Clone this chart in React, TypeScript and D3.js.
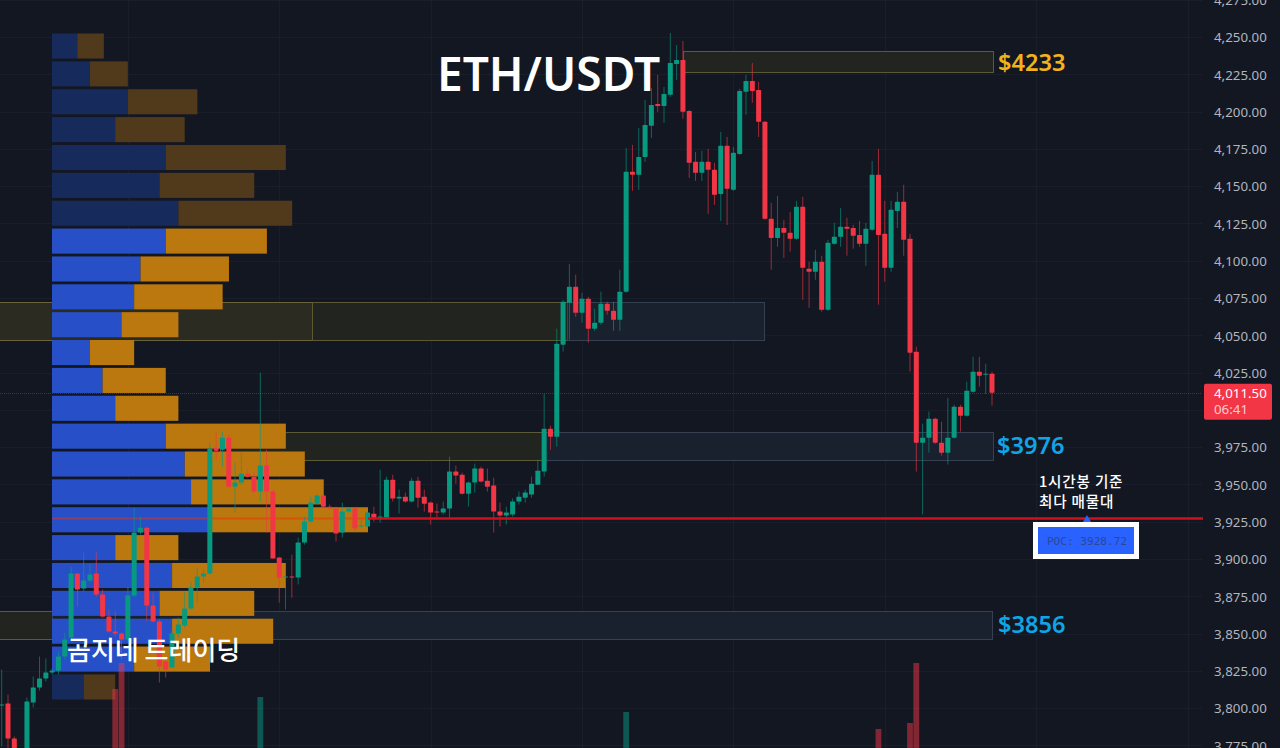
import { useEffect, useRef } from "react";
import * as d3 from "d3";

const WIDTH = 1280;
const HEIGHT = 748;
const PANE_RIGHT = 1202;

// 1h candles
const opens = [
  3801.8, 3803.1, 3779.7, 3755.6, 3758.9, 3803.8, 3813.8, 3819.9, 3823.9, 3825.2,
  3834.6, 3847.3, 3890.2, 3880.2, 3885.5, 3890.2, 3876.2, 3861.4, 3851.4, 3850,
  3846, 3875.5, 3917.7, 3921, 3868.8, 3858.1, 3831.3, 3827.2, 3850, 3855.4,
  3866.8, 3880.8, 3888.2, 3890.2, 3974.6, 3973.3, 3981.3, 3948.5, 3951.2, 3957.2,
  3955.2, 3945.2, 3962.6, 3945.2, 3901, 3887.5, 3888.2, 3887.5, 3911, 3925.1,
  3937.1, 3942.5, 3935.1, 3933.8, 3917.7, 3931.8, 3933.8, 3921.7, 3921.7, 3930.4,
  3927.7, 3927.7, 3953.2, 3940.5, 3941.8, 3938.5, 3952.5, 3941.8, 3937.8, 3931.8,
  3931.1, 3933.8, 3958.6, 3956.5, 3943.8, 3951.2, 3960.6, 3952.5, 3949.2, 3931.8,
  3929.1, 3929.8, 3938.5, 3941.1, 3943.2, 3949.8, 3958.6, 3987.4, 3982, 4043.7,
  4071.8, 4082.5, 4065.1, 4074.5, 4054.4, 4058.4, 4071.1, 4066.4, 4060.4, 4079.2,
  4159.6, 4157.6, 4169.6, 4190.4, 4205.1, 4203.8, 4211.2, 4231.9, 4234.6, 4200.4,
  4166.3, 4158.9, 4166.3, 4160.9, 4144.8, 4177, 4147.5, 4171.6, 4213.2, 4220.5,
  4214.5, 4193.1, 4128.1, 4115.3, 4122, 4118.7, 4114.7, 4136.1, 4094.6, 4092.6,
  4099.3, 4067.1, 4111.3, 4116, 4122.7, 4122, 4117.3, 4111.3, 4120.7, 4157.6,
  4118, 4095.2, 4133.4, 4139.5, 4114.7, 4039, 3978, 3981.3, 3994, 3978,
  3971.3, 3981.3, 4002, 3996.1, 4012.2, 4025.6, 4023.5, 4024.2,
];
const highs = [
  3825.9, 3809.2, 3781, 3762.3, 3807.1, 3821.2, 3834.6, 3833.3, 3826.6, 3838,
  3850.7, 3894.9, 3890.2, 3904.3, 3896.3, 3904.3, 3879.5, 3866.1, 3864.8, 3850.7,
  3881.5, 3934.4, 3928.4, 3921.7, 3877.5, 3859.4, 3832.6, 3852.7, 3860.7, 3877.5,
  3884.2, 3894.2, 3892.9, 3978, 3984.7, 3985.4, 3983.3, 3964.6, 3971.3, 3959.9,
  3958.6, 4024.9, 3973.3, 3946.5, 3901, 3892.9, 3902.9, 3914.3, 3928.4, 3941.8,
  3943.2, 3943.2, 3936.5, 3935.1, 3937.8, 3934.4, 3934.4, 3926.4, 3931.8, 3935.1,
  3959.9, 3955.2, 3956.5, 3946.5, 3944.5, 3954.5, 3955.2, 3946.5, 3938.5, 3937.1,
  3938.5, 3968.6, 3962.6, 3957.9, 3951.9, 3963.9, 3961.9, 3960.6, 3954.5, 3937.8,
  3935.1, 3940.5, 3945.2, 3946.5, 3955.2, 3966.6, 4010.8, 3989.4, 4054.4, 4073.8,
  4097.9, 4090.6, 4078.5, 4075.8, 4067.8, 4079.2, 4072.5, 4072.5, 4093.9, 4175.6,
  4177.7, 4189, 4207.8, 4215.8, 4224.6, 4216.5, 4252.7, 4244.6, 4247.3, 4201.1,
  4173, 4173.6, 4175, 4165.6, 4186.4, 4183, 4176.3, 4215.2, 4224.6, 4232.6,
  4219.9, 4193.7, 4138.8, 4143.5, 4127.4, 4132.8, 4140.1, 4142.8, 4099.3, 4107.3,
  4103.3, 4114, 4125.4, 4135.4, 4128.7, 4124, 4126.7, 4125.4, 4166.9, 4175,
  4140.1, 4140.1, 4146.2, 4150.9, 4118, 4042.3, 3990.7, 3998.8, 3994.7, 3992,
  4008.1, 4003.4, 4003.4, 4018.9, 4035.6, 4035.6, 4030.9, 4025.6,
];
const lows = [
  3774.3, 3765.6, 3752.2, 3748.9, 3755.6, 3800.4, 3811.8, 3817.9, 3822.6, 3822.6,
  3832.6, 3846, 3868.1, 3878.2, 3884.2, 3874.8, 3860.7, 3850.7, 3848, 3832.6,
  3844.7, 3874.1, 3916.4, 3858.1, 3857.4, 3817.2, 3820.5, 3827.2, 3847.3, 3854,
  3866.1, 3870.8, 3884.2, 3889.6, 3966.6, 3961.9, 3947.8, 3931.1, 3949.8, 3954.5,
  3944.5, 3938.5, 3917.7, 3900.3, 3870.8, 3866.1, 3874.1, 3882.9, 3909.6, 3924.4,
  3936.4, 3934.4, 3933.1, 3911.7, 3914.3, 3931.1, 3919, 3921, 3921, 3925.1,
  3924.4, 3927.1, 3938.5, 3930.4, 3937.8, 3937.8, 3934.4, 3931.8, 3923.1, 3927.7,
  3929.8, 3927.7, 3950.5, 3943.2, 3935.1, 3944.5, 3951.2, 3945.2, 3917.7, 3921.7,
  3923.1, 3928.4, 3936.5, 3937.8, 3941.1, 3949.8, 3955.2, 3973.3, 3975.3, 4039,
  4047, 4062.4, 4058.4, 4045, 4053, 4057, 4063.8, 4053, 4053, 4078.5,
  4146.8, 4147.5, 4166.3, 4182.3, 4199.8, 4192.4, 4209.8, 4221.2, 4195.1, 4155.5,
  4153.5, 4153.5, 4131.4, 4137.4, 4126.7, 4124, 4146.8, 4171, 4197.8, 4205.8,
  4183, 4127.4, 4093.9, 4109.3, 4101.9, 4106, 4114, 4073.8, 4068.4, 4087.2,
  4065.8, 4066.4, 4110.7, 4109.3, 4103.3, 4108, 4109.3, 4096.6, 4120, 4070.5,
  4085.9, 4092.6, 4122, 4103.3, 4025.6, 3958.6, 3929.8, 3971.3, 3977.3, 3969.3,
  3963.3, 3980.7, 3985.4, 3995.4, 4011.5, 4015.5, 4010.8, 4002.8,
];
const closes = [
  3802.5, 3779.7, 3758.9, 3758.9, 3804.5, 3813.8, 3819.9, 3823.9, 3825.2, 3834.6,
  3846, 3890.2, 3879.5, 3885.5, 3889.6, 3876.2, 3861.4, 3851.4, 3850, 3846,
  3875.5, 3917.7, 3921, 3868.8, 3858.1, 3827.9, 3825.9, 3850, 3856.1, 3866.8,
  3880.8, 3888.2, 3890.2, 3974, 3972.6, 3981.3, 3948.5, 3951.2, 3957.2, 3955.2,
  3945.2, 3962.6, 3945.2, 3900.3, 3887.5, 3888.2, 3887.5, 3911, 3925.1, 3937.8,
  3942.5, 3935.1, 3933.8, 3917, 3931.8, 3933.8, 3920.4, 3922.4, 3931.1, 3927.1,
  3928.4, 3953.2, 3940.5, 3941.8, 3938.5, 3952.5, 3941.1, 3937.1, 3931.1, 3931.1,
  3933.8, 3958.6, 3955.9, 3943.8, 3951.2, 3960.6, 3951.9, 3948.5, 3931.8, 3929.1,
  3931.1, 3938.5, 3941.8, 3944.5, 3950.5, 3959.2, 3987.4, 3982, 4044.3, 4072.5,
  4082.5, 4065.1, 4074.5, 4054.4, 4058.4, 4071.1, 4066.4, 4060.4, 4079.2, 4159.6,
  4157.6, 4169.6, 4191, 4204.4, 4203.8, 4211.8, 4232.6, 4234.6, 4199.8, 4165.6,
  4158.9, 4166.3, 4160.9, 4144.2, 4177, 4148.2, 4172.3, 4213.8, 4220.5, 4213.8,
  4193.1, 4128.1, 4115.3, 4122, 4118.7, 4114.7, 4136.1, 4095.2, 4092.6, 4099.3,
  4067.1, 4112, 4116, 4122.7, 4121.4, 4116.7, 4111.3, 4121.4, 4157.6, 4117.3,
  4095.2, 4134.1, 4139.5, 4114, 4038.3, 3978, 3981.3, 3994, 3978, 3971.3,
  3981.3, 4002, 3996.1, 4012.8, 4025.6, 4022.9, 4024.2, 4011.5,
];

// only a few volume columns reach into the crop
const volumeCandles = [18, 19, 41, 99, 139, 144, 145];
const volumeValues = [59, 85, 51, 36, 19, 25, 85];

// volume profile, top row first
const profileBuy = [4, 6, 12, 10, 18, 17, 20, 18, 14, 13, 11, 6, 8, 10, 18, 21, 22, 25, 10, 19, 17, 19, 13, 5];
const profileSell = [4.2, 6, 11, 11, 19, 15, 18, 16, 14, 14, 9, 7, 10, 10, 19, 19, 21, 25, 10, 18, 15, 16, 12, 5];
const valueAreaRows = [7, 22];

// support / resistance boxes
const zoneFrom = [108, -1, 49.2, 89.7, 34.6, 86.1, -1, 8];
const zoneTo = [157.1, 49.2, 89.7, 121, 86.1, 157.1, 8, 157.1];
const zoneTop = [4240.6, 4072.5, 4072.5, 4072.5, 3985.4, 3985.4, 3865.4, 3865.4];
const zoneBottom = [4226.6, 4047, 4047, 4047, 3966.6, 3966.6, 3846.6, 3846.6];
const zoneKinds = ["gold", "goldStrong", "gold", "blue", "gold", "blue", "gold", "blue"];

const priceTicks = d3.range(3775, 4276, 25);
const hiddenTick = 4000; // sits under the last price tag
const timeGridCandles = [20, 44, 68, 92, 116, 140, 164, 188];
const lastPrice = 4011.5;
const pocLinePrice = 3927.5;
const pocLabel = "POC: 3928.72";
const countdown = "06:41";

const UP = "#089981";
const DOWN = "#f23645";
const CJK = "'Noto Sans CJK KR', 'Noto Sans', sans-serif";

const App = () => {
  const ref = useRef<SVGSVGElement | null>(null);

  useEffect(() => {
    if (!ref.current) return;
    const svg = d3.select(ref.current);
    svg.selectAll("*").remove();

    const x = d3.scaleLinear().domain([0, opens.length - 1]).range([1.7, 992]);
    const y = d3.scaleLinear().domain([3775, 4275]).range([745.4, -0.3]);
    const vol = d3.scaleLinear().domain([0, 100]).range([748, 648]);
    const rowY = d3
      .scaleBand<number>()
      .domain(d3.range(profileBuy.length))
      .range([33.5, 699.5])
      .paddingInner(0.1);
    const profileX = d3.scaleLinear().domain([0, 50]).range([52, 368]);

    svg.append("rect").attr("width", WIDTH).attr("height", HEIGHT).attr("fill", "#131722");

    // grid
    const grid = svg.append("g").attr("stroke", "#1a1e2a").attr("stroke-width", 1);
    grid
      .selectAll("line.h")
      .data(priceTicks)
      .enter()
      .append("line")
      .attr("x1", 0)
      .attr("x2", PANE_RIGHT)
      .attr("y1", (d) => Math.round(y(d)) + 0.5)
      .attr("y2", (d) => Math.round(y(d)) + 0.5);
    grid
      .selectAll("line.v")
      .data(timeGridCandles)
      .enter()
      .append("line")
      .attr("x1", (d) => Math.round(x(d)) + 0.5)
      .attr("x2", (d) => Math.round(x(d)) + 0.5)
      .attr("y1", 0)
      .attr("y2", HEIGHT);

    // zones
    const zoneFill: Record<string, string> = { gold: "#22241f", goldStrong: "#2c2b22", blue: "#19212f" };
    const zoneStroke: Record<string, string> = { gold: "#5c5a36", goldStrong: "#6a6238", blue: "#354153" };
    svg
      .append("g")
      .selectAll("rect")
      .data(zoneKinds)
      .enter()
      .append("rect")
      .attr("x", (_, i) => Math.round(x(zoneFrom[i])) + 0.5)
      .attr("width", (_, i) => Math.round(x(zoneTo[i]) - x(zoneFrom[i])))
      .attr("y", (_, i) => Math.round(y(zoneTop[i])) + 0.5)
      .attr("height", (_, i) => Math.round(y(zoneBottom[i]) - y(zoneTop[i])))
      .attr("fill", (d) => zoneFill[d])
      .attr("stroke", (d) => zoneStroke[d]);

    // last price line
    svg
      .append("line")
      .attr("x1", 0)
      .attr("x2", PANE_RIGHT)
      .attr("y1", Math.round(y(lastPrice)) + 0.5)
      .attr("y2", Math.round(y(lastPrice)) + 0.5)
      .attr("stroke", "#4a3236")
      .attr("stroke-dasharray", "1 1");

    // volume profile
    const inValueArea = (i: number) => i >= valueAreaRows[0] && i <= valueAreaRows[1];
    const profile = svg.append("g");
    profile
      .selectAll("rect.buy")
      .data(profileBuy)
      .enter()
      .append("rect")
      .attr("x", profileX(0))
      .attr("y", (_, i) => rowY(i)!)
      .attr("height", rowY.bandwidth())
      .attr("width", (d) => profileX(d) - profileX(0))
      .attr("fill", (_, i) => (inValueArea(i) ? "#2750c8" : "#172a5c"));
    profile
      .selectAll("rect.sell")
      .data(profileSell)
      .enter()
      .append("rect")
      .attr("x", (_, i) => profileX(profileBuy[i]))
      .attr("y", (_, i) => rowY(i)!)
      .attr("height", rowY.bandwidth())
      .attr("width", (d) => profileX(d) - profileX(0))
      .attr("fill", (_, i) => (inValueArea(i) ? "#bb780f" : "#503a1b"));

    // POC line, faint over the profile
    const pocY = Math.round(y(pocLinePrice)) + 0.5;
    svg
      .append("line")
      .attr("x1", profileX(0))
      .attr("x2", profileX(50))
      .attr("y1", pocY)
      .attr("y2", pocY)
      .attr("stroke", "#f0300a")
      .attr("stroke-opacity", 0.5)
      .attr("stroke-width", 2);

    // volume
    svg
      .append("g")
      .selectAll("rect")
      .data(volumeValues)
      .enter()
      .append("rect")
      .attr("x", (_, i) => x(volumeCandles[i]) - 2.9)
      .attr("width", 5.8)
      .attr("y", (d) => vol(d))
      .attr("height", (d) => vol(0) - vol(d))
      .attr("fill", (_, i) => (closes[volumeCandles[i]] >= opens[volumeCandles[i]] ? UP : DOWN))
      .attr("fill-opacity", 0.5);

    // candles
    const candles = svg.append("g");
    const idx = d3.range(opens.length);
    const color = (i: number) => (closes[i] >= opens[i] ? UP : DOWN);
    candles
      .selectAll("line")
      .data(idx)
      .enter()
      .append("line")
      .attr("x1", (i) => x(i))
      .attr("x2", (i) => x(i))
      .attr("y1", (i) => y(highs[i]))
      .attr("y2", (i) => y(lows[i]))
      .attr("stroke", color)
      .attr("stroke-opacity", 0.62)
      .attr("stroke-width", 1);
    candles
      .selectAll("rect")
      .data(idx)
      .enter()
      .append("rect")
      .attr("x", (i) => x(i) - 2.5)
      .attr("width", 5)
      .attr("y", (i) => y(Math.max(opens[i], closes[i])))
      .attr("height", (i) => Math.max(1, Math.abs(y(opens[i]) - y(closes[i]))))
      .attr("rx", 0.6)
      .attr("fill", color);

    // POC line past the profile
    svg
      .append("line")
      .attr("x1", profileX(50))
      .attr("x2", PANE_RIGHT + 1)
      .attr("y1", pocY)
      .attr("y2", pocY)
      .attr("stroke", "#d20f1b")
      .attr("stroke-width", 2.4);

    // price axis
    const axis = svg
      .append("g")
      .attr("transform", "translate(1214,0.5)")
      .call(
        d3
          .axisRight(y)
          .tickValues(priceTicks.filter((d) => d !== hiddenTick))
          .tickSize(0)
          .tickPadding(0)
          .tickFormat((d) => d3.format(",.2f")(d as number))
      );
    axis.select(".domain").remove();
    axis
      .selectAll("text")
      .attr("fill", "#b2b5be")
      .attr("font-family", "'Noto Sans', sans-serif")
      .attr("font-size", 13.3);

    // last price tag
    const tagY = y(lastPrice);
    svg
      .append("rect")
      .attr("x", 1204)
      .attr("y", tagY - 9)
      .attr("width", 68)
      .attr("height", 36)
      .attr("rx", 2)
      .attr("fill", DOWN);
    svg
      .append("text")
      .attr("x", 1214)
      .attr("y", tagY + 5)
      .attr("fill", "#ffffff")
      .attr("font-family", "'Noto Sans', sans-serif")
      .attr("font-size", 13.3)
      .text(d3.format(",.2f")(lastPrice));
    svg
      .append("text")
      .attr("x", 1214)
      .attr("y", tagY + 21)
      .attr("fill", "#ffffff")
      .attr("fill-opacity", 0.75)
      .attr("font-family", "'Noto Sans', sans-serif")
      .attr("font-size", 13.3)
      .text(countdown);

    // annotations
    const note = (tx: number, ty: number, text: string, size: number, fill: string, weight: number, family = CJK) =>
      svg
        .append("text")
        .attr("x", tx)
        .attr("y", ty)
        .attr("fill", fill)
        .attr("font-size", size)
        .attr("font-weight", weight)
        .attr("font-family", family)
        .text(text);

    note(437, 91, "ETH/USDT", 46, "#ffffff", 600, "'Noto Sans', sans-serif");
    note(998, 71, "$4233", 23.6, "#f2b21c", 600, "'Noto Sans', sans-serif");
    note(997, 454, "$3976", 23.6, "#0fa5e6", 600, "'Noto Sans', sans-serif");
    note(998, 633, "$3856", 23.6, "#0fa5e6", 600, "'Noto Sans', sans-serif");
    note(67, 660, "곰지네 트레이딩", 26, "#ffffff", 500);
    note(1039, 487, "1시간봉 기준", 14.6, "#ffffff", 500).attr("letter-spacing", 0.8);
    note(1039, 507, "최다 매물대", 14.6, "#ffffff", 500).attr("letter-spacing", 0.8);

    // POC tag
    svg
      .append("path")
      .attr("d", d3.symbol(d3.symbolTriangle, 34)() as string)
      .attr("transform", "translate(1087,520)")
      .attr("fill", "#2962ff");
    svg.append("rect").attr("x", 1033).attr("y", 522).attr("width", 106).attr("height", 37).attr("fill", "#ffffff");
    svg.append("rect").attr("x", 1038).attr("y", 527).attr("width", 96).attr("height", 27).attr("fill", "#2962ff");
    svg
      .append("text")
      .attr("x", 1087)
      .attr("y", 545)
      .attr("text-anchor", "middle")
      .attr("fill", "#2c4796")
      .attr("font-family", "'DejaVu Sans Mono', monospace")
      .attr("font-size", 11.1)
      .text(pocLabel);
  }, []);

  return (
    <svg
      ref={ref}
      width={WIDTH}
      height={HEIGHT}
      style={{ position: "absolute", left: 0, top: 0, display: "block" }}
    />
  );
};

export default App;
